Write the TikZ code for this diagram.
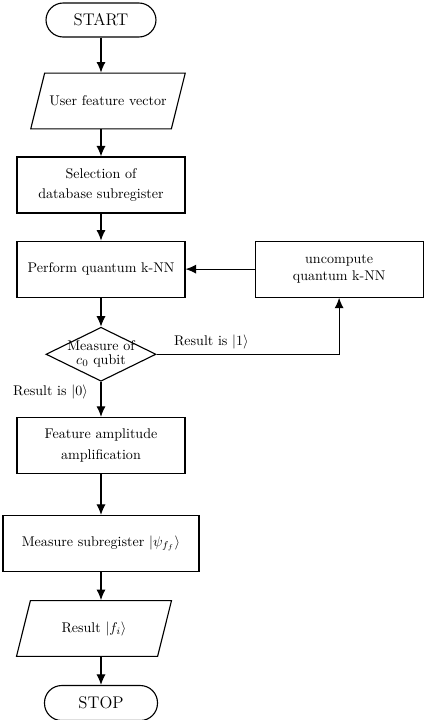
\documentclass[tikz,border=0pt]{standalone}
\usepackage{amssymb}
\usepackage{tikz}
\usetikzlibrary{arrows.meta,shapes,positioning}

\tikzset{
  startstop/.style={rectangle, rounded corners=0.43cm, draw, thick, minimum width=2.75cm, minimum height=0.85cm, font=\large},
  io/.style={trapezium, trapezium left angle=76, trapezium right angle=104, trapezium stretches body, draw, thick, text height=2ex, text depth=0.6ex, inner ysep=0.5cm, minimum width=3.85cm},
  process/.style={rectangle, draw, thick, align=center, minimum width=4.2cm, minimum height=1.4cm},
  decision/.style={diamond, aspect=2, draw, thick, align=center, inner sep=-4pt, minimum width=2.75cm, minimum height=1.35cm},
  arrow/.style={thick, -{Latex[length=7.5pt, width=6.5pt]}}
}

\begin{document}
\begin{tikzpicture}
\useasboundingbox (-2.525,0.5) rectangle (8.125,-17.5);
\node[startstop] (start) at (0,0) {START};
\node[io, below=0.875cm of start, xshift=0.175cm] (in) {User feature vector};
\node[process, below=0.675cm of in, xshift=-0.175cm] (sel) {Selection of\\[2pt] database subregister};
\node[process, below=0.675cm of sel] (perf) {Perform quantum k-NN};
\node[process, right=1.725cm of perf] (uncomp) {uncompute\\ quantum k-NN};
\node[decision, below=0.725cm of perf] (dec) {Measure of\\[-2pt] $c_0$ qubit};
\node[process, below=0.875cm of dec] (feat) {Feature amplitude\\[3pt] amplification};
\node[process, below=1.025cm of feat, minimum width=4.9cm] (meas) {Measure subregister $|\psi_{f_f}\rangle$};
\node[io, below=0.7cm of meas, xshift=-0.175cm, minimum width=3.875cm] (res) {Result $|f_i\rangle$};
\node[startstop, below=0.7cm of res, xshift=0.175cm, minimum width=2.825cm, minimum height=0.875cm] (stop) {STOP};

\draw[arrow] (start) -- (start |- in.north);
\draw[arrow] (in.south -| start) -- (sel);
\draw[arrow] (sel) -- (perf);
\draw[arrow] (perf) -- (dec);
\draw[arrow] (dec) -- node[left=0.2cm, pos=0.3] {Result is $|0\rangle$} (feat);
\draw[arrow] (dec.east) -| node[above, pos=0.15] {Result is $|1\rangle$} (uncomp.south);
\draw[arrow] (uncomp) -- (perf);
\draw[arrow] (feat) -- (meas);
\draw[arrow] (meas) -- (meas |- res.north);
\draw[arrow] (res.south -| meas) -- (stop);
\end{tikzpicture}
\end{document}
